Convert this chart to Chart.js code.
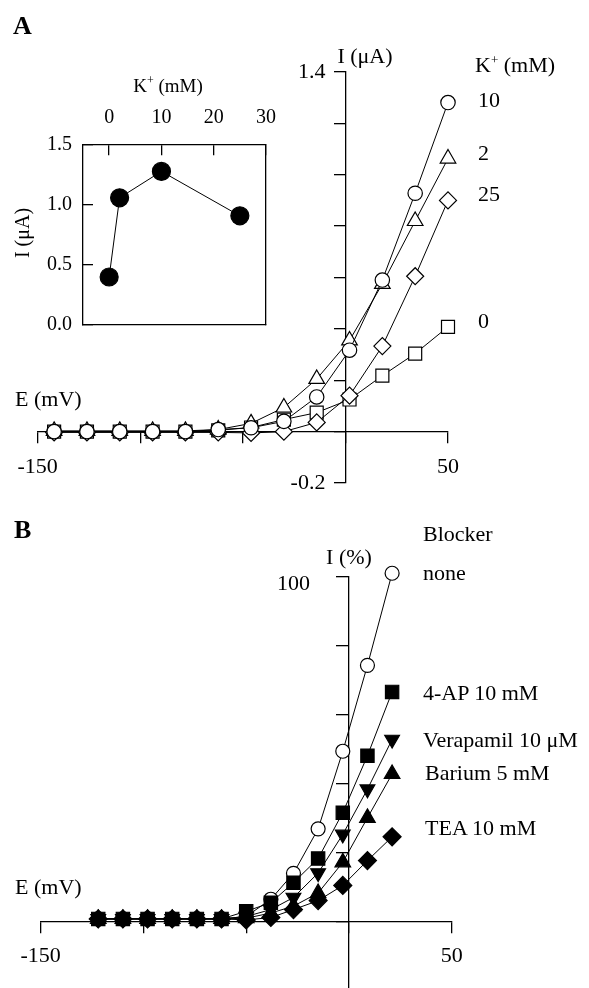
<!DOCTYPE html>
<html><head><meta charset="utf-8">
<script src="https://cdn.jsdelivr.net/npm/chart.js@4"></script>
<style>
html,body{margin:0;padding:0;background:#fff;overflow:hidden;}
#wrap{position:relative;width:589px;height:988px;background:#fff;}
canvas{position:absolute;left:0;}
.t{position:absolute;font-family:"Liberation Serif","Times New Roman",serif;font-size:22px;line-height:1;white-space:nowrap;color:#000;transform:translateY(-50%);}
.c{transform:translate(-50%,-50%);}
.p{font-weight:bold;font-size:26px;}
.sup{font-size:13px;position:relative;top:-8px;}
.rot{transform:translate(-50%,-50%) rotate(-90deg);}
</style></head><body>
<div id="wrap">
<canvas id="cA" width="589" height="500" style="top:0"></canvas>
<canvas id="cI" width="300" height="300" style="top:60px"></canvas>
<canvas id="cB" width="589" height="488" style="top:500px"></canvas>

<div class="t p" style="left:13px;top:26px">A</div>
<div class="t c" style="left:365px;top:56px">I (μA)</div>
<div class="t" style="left:475px;top:65px">K<span class="sup">+</span> (mM)</div>
<div class="t" style="left:478px;top:100px">10</div>
<div class="t" style="left:478px;top:153px">2</div>
<div class="t" style="left:478px;top:194px">25</div>
<div class="t" style="left:478px;top:321px">0</div>
<div class="t" style="left:15px;top:399px">E (mV)</div>

<div class="t c" style="left:168px;top:85px;font-size:19px">K<span class="sup" style="font-size:12px">+</span> (mM)</div>
<div class="t rot" style="left:22px;top:233px;font-size:20px">I (μA)</div>

<div class="t p" style="left:14px;top:530px">B</div>
<div class="t" style="left:423px;top:534px">Blocker</div>
<div class="t" style="left:423px;top:573px">none</div>
<div class="t c" style="left:349px;top:557px">I (%)</div>
<div class="t" style="left:423px;top:693px">4-AP 10 mM</div>
<div class="t" style="left:423px;top:740px">Verapamil 10 μM</div>
<div class="t" style="left:425px;top:773px">Barium 5 mM</div>
<div class="t" style="left:425px;top:828px">TEA 10 mM</div>
<div class="t" style="left:15px;top:887px">E (mV)</div>
</div>
<script>
// ---------- Panel A data ----------
const voltageA   = [-142,-126,-110,-94,-78,-62,-46,-30,-14,2,18,34,50];
const currentK10 = [0,0,0,0,0,0.008,0.015,0.04,0.135,0.317,0.59,0.928,1.281];
const currentK2  = [0.003,0.003,0.003,0.003,0.003,0.008,0.032,0.094,0.205,0.355,0.575,0.82,1.063];
const currentK25 = [-0.003,-0.003,-0.003,-0.003,-0.003,-0.003,-0.005,0.0,0.036,0.14,0.333,0.605,0.90];
const currentK0  = [0,0,0,0,0,0.005,0.016,0.047,0.074,0.125,0.218,0.304,0.408];
const tickLabelsAX = [-150, 50];
const tickLabelsAY = [1.4, -0.2];

// ---------- Inset data ----------
const kConc = [0, 2, 10, 25];
const peakCurrent = [0.40, 1.06, 1.28, 0.91];
const insetTicksX = [0, 10, 20, 30];
const insetTicksY = [0.0, 0.5, 1.0, 1.5];

// ---------- Panel B data ----------
const voltageB  = [-122,-110,-98,-86,-74,-62,-50,-38,-27,-15,-3,9,21];
const noneB     = [0.8,0.8,0.8,0.8,0.8,0.8,1.5,6.5,14,26.9,49.4,74.3,101];
const ap4B      = [0.8,0.8,0.8,0.8,0.8,0.8,3.0,5.5,11.3,18.3,31.6,48.1,66.6];
const verapB    = [0.8,0.8,0.8,0.8,0.8,0.8,1.5,3.5,7,14.1,25.3,38.4,52.8];
const bariumB   = [0.8,0.8,0.8,0.8,0.8,0.8,1.0,2.5,4.5,8.3,17.2,30.1,42.8];
const teaB      = [0.8,0.8,0.8,0.8,0.8,0.8,0.5,1.2,3.5,6.1,10.5,17.7,24.6];
const tickLabelsBX = [-150, 50];
const tickLabelsBY = [100];

const SERIF = '"Liberation Serif","Times New Roman",serif';
const pts = (xs, ys) => xs.map((x, i) => ({x, y: ys[i]}));
const zeroPad = s => { s.paddingLeft = 0; s.paddingRight = 0; s.paddingTop = 0; s.paddingBottom = 0; };

const tickText = {
  id: 'tickText',
  afterDraw(chart, args, opts) {
    const ctx = chart.ctx;
    ctx.save();
    ctx.fillStyle = '#000';
    ctx.textBaseline = 'middle';
    for (const it of (opts.items || [])) {
      ctx.font = it.font;
      ctx.textAlign = it.align || 'center';
      const sc = chart.scales[it.scale];
      const cross = chart.scales[it.cross.scale].getPixelForValue(it.cross.value);
      it.values.forEach(v => {
        const p = sc.getPixelForValue(v);
        const txt = it.digits != null ? v.toFixed(it.digits) : String(v);
        if (sc.axis === 'x') ctx.fillText(txt, p + (it.dx || 0), cross + (it.dy || 0));
        else ctx.fillText(txt, cross + (it.dx || 0), p + (it.dy || 0));
      });
    }
    ctx.restore();
  }
};

function axis(min, max, step, pos, tl, extra) {
  return Object.assign({
    type: 'linear', min, max, position: pos,
    border: {display: true, color: '#000', width: 1.3},
    grid: {display: true, drawOnChartArea: false, drawTicks: tl !== 0, tickLength: tl, color: '#000', lineWidth: 1.3},
    ticks: {display: false, stepSize: step, includeBounds: false},
    afterFit: zeroPad
  }, extra || {});
}

function ds(label, data, style, radius, fill, extra) {
  return Object.assign({
    label, data, showLine: true, borderColor: '#000', borderWidth: 1,
    pointStyle: style, pointRadius: radius, pointHoverRadius: radius,
    pointBorderColor: '#000', pointBorderWidth: 1.2,
    pointBackgroundColor: fill ? '#000' : '#fff', backgroundColor: fill ? '#000' : '#fff',
    tension: 0, clip: false
  }, extra || {});
}

const common = {
  responsive: false, animation: false, devicePixelRatio: 1,
  plugins: {legend: {display: false}, tooltip: {enabled: false}},
  events: []
};

// ---------- Chart A ----------
new Chart(document.getElementById('cA'), {
  type: 'scatter',
  data: {datasets: [
    ds('10 mM', pts(voltageA, currentK10), 'circle', 7.2, false),
    ds('2 mM', pts(voltageA, currentK2), 'triangle', 9, false),
    ds('25 mM', pts(voltageA, currentK25), 'rectRot', 8.5, false),
    ds('0 mM', pts(voltageA, currentK0), 'rect', 9.2, false)
  ]},
  options: Object.assign({}, common, {
    layout: {autoPadding: false, padding: {left: 37.7, right: 141, top: 72, bottom: 17}},
    scales: {
      x: axis(-150, 50, 50, {y: 0}, 11),
      y: axis(-0.2, 1.4, 0.2, {x: 0}, 11)
    },
    plugins: Object.assign({}, common.plugins, {
      tickText: {items: [
        {scale: 'x', values: tickLabelsAX, cross: {scale: 'y', value: 0}, dy: 36, align: 'center', font: '22px ' + SERIF},
        {scale: 'y', values: tickLabelsAY, cross: {scale: 'x', value: 0}, dx: -20, align: 'right', digits: 1, font: '22px ' + SERIF}
      ]}
    })
  }),
  plugins: [tickText]
});

// ---------- Inset ----------
new Chart(document.getElementById('cI'), {
  type: 'scatter',
  data: {datasets: [
    ds('peak', pts(kConc, peakCurrent), 'circle', 9, true)
  ]},
  options: Object.assign({}, common, {
    layout: {autoPadding: false, padding: {left: 83, right: 34, top: 85, bottom: 35}},
    scales: {
      x: axis(-5, 30, 10, {y: 1.5}, 10),
      y: axis(0, 1.5, 0.5, {x: -5}, -11),
      x2: axis(0, 1, 1, {y: 0}, 0, {axis: 'x'}),
      y2: axis(0, 1, 1, {x: 30}, 0, {axis: 'y'})
    },
    plugins: Object.assign({}, common.plugins, {
      tickText: {items: [
        {scale: 'x', values: insetTicksX, cross: {scale: 'y', value: 1.5}, dy: -27, align: 'center', font: '20px ' + SERIF},
        {scale: 'y', values: insetTicksY, cross: {scale: 'x', value: -5}, dx: -11, align: 'right', digits: 1, font: '20px ' + SERIF}
      ]}
    })
  }),
  plugins: [tickText]
});

// ---------- Chart B ----------
new Chart(document.getElementById('cB'), {
  type: 'scatter',
  data: {datasets: [
    ds('4-AP 10 mM', pts(voltageB, ap4B), 'rect', 9.4, true),
    ds('Verapamil 10 μM', pts(voltageB, verapB), 'triangle', 8.5, true, {pointRotation: 180}),
    ds('Barium 5 mM', pts(voltageB, bariumB), 'triangle', 9, true),
    ds('TEA 10 mM', pts(voltageB, teaB), 'rectRot', 9, true),
    ds('none', pts(voltageB, noneB), 'circle', 7, false)
  ]},
  options: Object.assign({}, common, {
    layout: {autoPadding: false, padding: {left: 40.7, right: 137.3, top: 76.7, bottom: 0.8}},
    scales: {
      x: axis(-150, 50, 50, {y: 0}, 11),
      y: axis(-19, 100, 20, {x: 0}, 12)
    },
    plugins: Object.assign({}, common.plugins, {
      tickText: {items: [
        {scale: 'x', values: tickLabelsBX, cross: {scale: 'y', value: 0}, dy: 35, align: 'center', font: '22px ' + SERIF},
        {scale: 'y', values: tickLabelsBY, cross: {scale: 'x', value: 0}, dx: -39, dy: 8, align: 'right', font: '22px ' + SERIF}
      ]}
    })
  }),
  plugins: [tickText]
});
</script>
</body></html>
